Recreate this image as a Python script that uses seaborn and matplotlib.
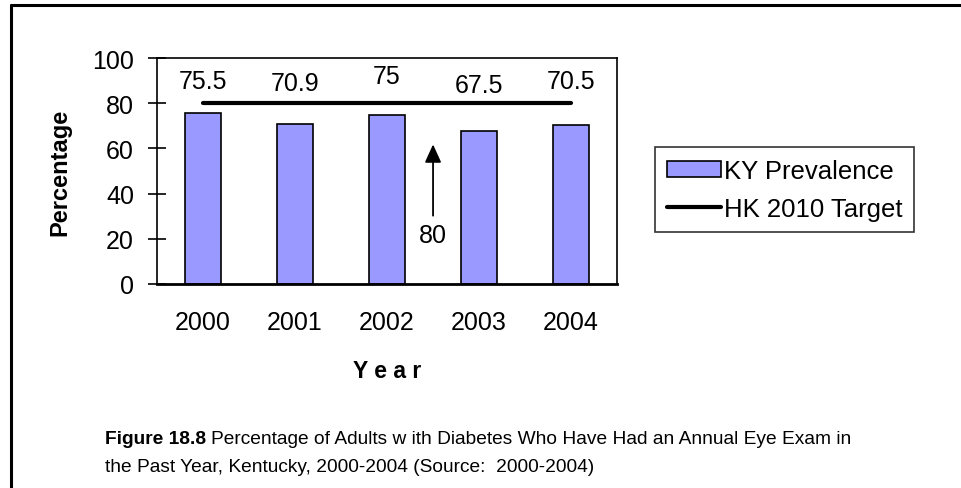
import numpy as np
import pandas as pd
import matplotlib
matplotlib.use("Agg")
import matplotlib.pyplot as plt
import seaborn as sns
from matplotlib.patches import Patch
from matplotlib.lines import Line2D

# ── Datos ─────────────────────────────────────────────────────────────────────
years = ["2000", "2001", "2002", "2003", "2004"]
ky_prevalence = [75.5, 70.9, 75, 67.5, 70.5]
hk_target = [80, 80, 80, 80, 80]
label_texts = ["75.5", "70.9", "75", "67.5", "70.5"]
yticks = [0, 20, 40, 60, 80, 100]

# posición vertical de las etiquetas (como en el original de Excel)
label_y = [90.0, 89.0, 92.0, 88.0, 90.0]

sns.set_style("white")
plt.rcParams["font.family"] = ["Liberation Sans", "DejaVu Sans"]
plt.rcParams["text.color"] = "black"
plt.rcParams["axes.labelcolor"] = "black"
plt.rcParams["xtick.color"] = "black"
plt.rcParams["ytick.color"] = "black"

df = pd.DataFrame({"year": years, "value": ky_prevalence})

fig = plt.figure(figsize=(9.61, 4.89), dpi=100)
ax = fig.add_axes([0.1634, 0.4172, 0.4787, 0.4621])

sns.barplot(data=df, x="year", y="value", color="#9999ff", saturation=1,
            edgecolor="black", linewidth=1.2, width=0.39, ax=ax)
sns.lineplot(x=np.arange(len(years)), y=hk_target, color="black",
             linewidth=3, ax=ax)

for i, (txt, yy) in enumerate(zip(label_texts, label_y)):
    ax.text(i, yy, txt, ha="center", va="center", fontsize=18)

# flecha indicando la meta de 80
ax.annotate("", xy=(2.5, 63), xytext=(2.5, 29),
            arrowprops=dict(arrowstyle="-|>,head_width=0.5,head_length=1.1",
                            color="black", lw=1.3))
ax.text(2.5, 21.5, "80", ha="center", va="center", fontsize=18)

ax.set_xlim(-0.5, len(years) - 0.5)
ax.set_ylim(0, 100)
ax.set_yticks(yticks)
ax.set_xticks(np.arange(len(years)))
ax.set_xticks(np.arange(-0.5, len(years)), minor=True)
ax.tick_params(axis="x", which="major", length=0, pad=19, labelsize=18)
ax.tick_params(axis="x", which="minor", direction="inout", length=16,
               width=1.2, color="black")
ax.tick_params(axis="y", which="major", direction="inout", length=13,
               width=1.2, color="black", pad=10, labelsize=18, left=True)

for s in ax.spines.values():
    s.set_visible(True)
    s.set_color("black")
    s.set_linewidth(1.2)
ax.spines["bottom"].set_linewidth(2)

ax.set_xlabel("Y e a r", fontsize=16.5, fontweight="bold", labelpad=18)
ax.set_ylabel("Percentage", fontsize=17, fontweight="bold", labelpad=15)

# ── Leyenda ───────────────────────────────────────────────────────────────────
handles = [Patch(facecolor="#9999ff", edgecolor="black", linewidth=1.2),
           Line2D([0], [0], color="black", linewidth=3)]
leg = fig.legend(handles, ["KY Prevalence", "HK 2010 Target"],
                 loc="upper left", bbox_to_anchor=(0.6816, 0.697),
                 fontsize=18.5, frameon=True, fancybox=False,
                 handlelength=2.1, handleheight=0.6, handletextpad=0.15,
                 borderpad=0.45, labelspacing=0.55, borderaxespad=0)
leg.get_frame().set_edgecolor("black")
leg.get_frame().set_linewidth(1.2)

# ── Título de figura ─────────────────────────────────────────────────────────
cap_x = 0.109
line1_y = 0.093
line2_y = 0.0357
t1 = fig.text(cap_x, line1_y, "Figure 18.8", fontsize=13.8,
              fontweight="bold", ha="left", va="baseline")
fig.canvas.draw()
bb = t1.get_window_extent(renderer=fig.canvas.get_renderer())
x2 = (bb.x1 + 5) / fig.bbox.width
fig.text(x2, line1_y,
         "Percentage of Adults w ith Diabetes Who Have Had an Annual Eye Exam in",
         fontsize=13.8, ha="left", va="baseline")
fig.text(cap_x, line2_y, "the Past Year, Kentucky, 2000-2004 (Source:  2000-2004)",
         fontsize=13.8, ha="left", va="baseline")

# borde exterior (solo arriba e izquierda)
fig.add_artist(Line2D([0.011, 1.0], [0.988, 0.988], color="black", lw=2.2,
                      transform=fig.transFigure))
fig.add_artist(Line2D([0.011, 0.011], [0.0, 0.988], color="black", lw=2.2,
                      transform=fig.transFigure))

fig.savefig("out.png", dpi=100)
